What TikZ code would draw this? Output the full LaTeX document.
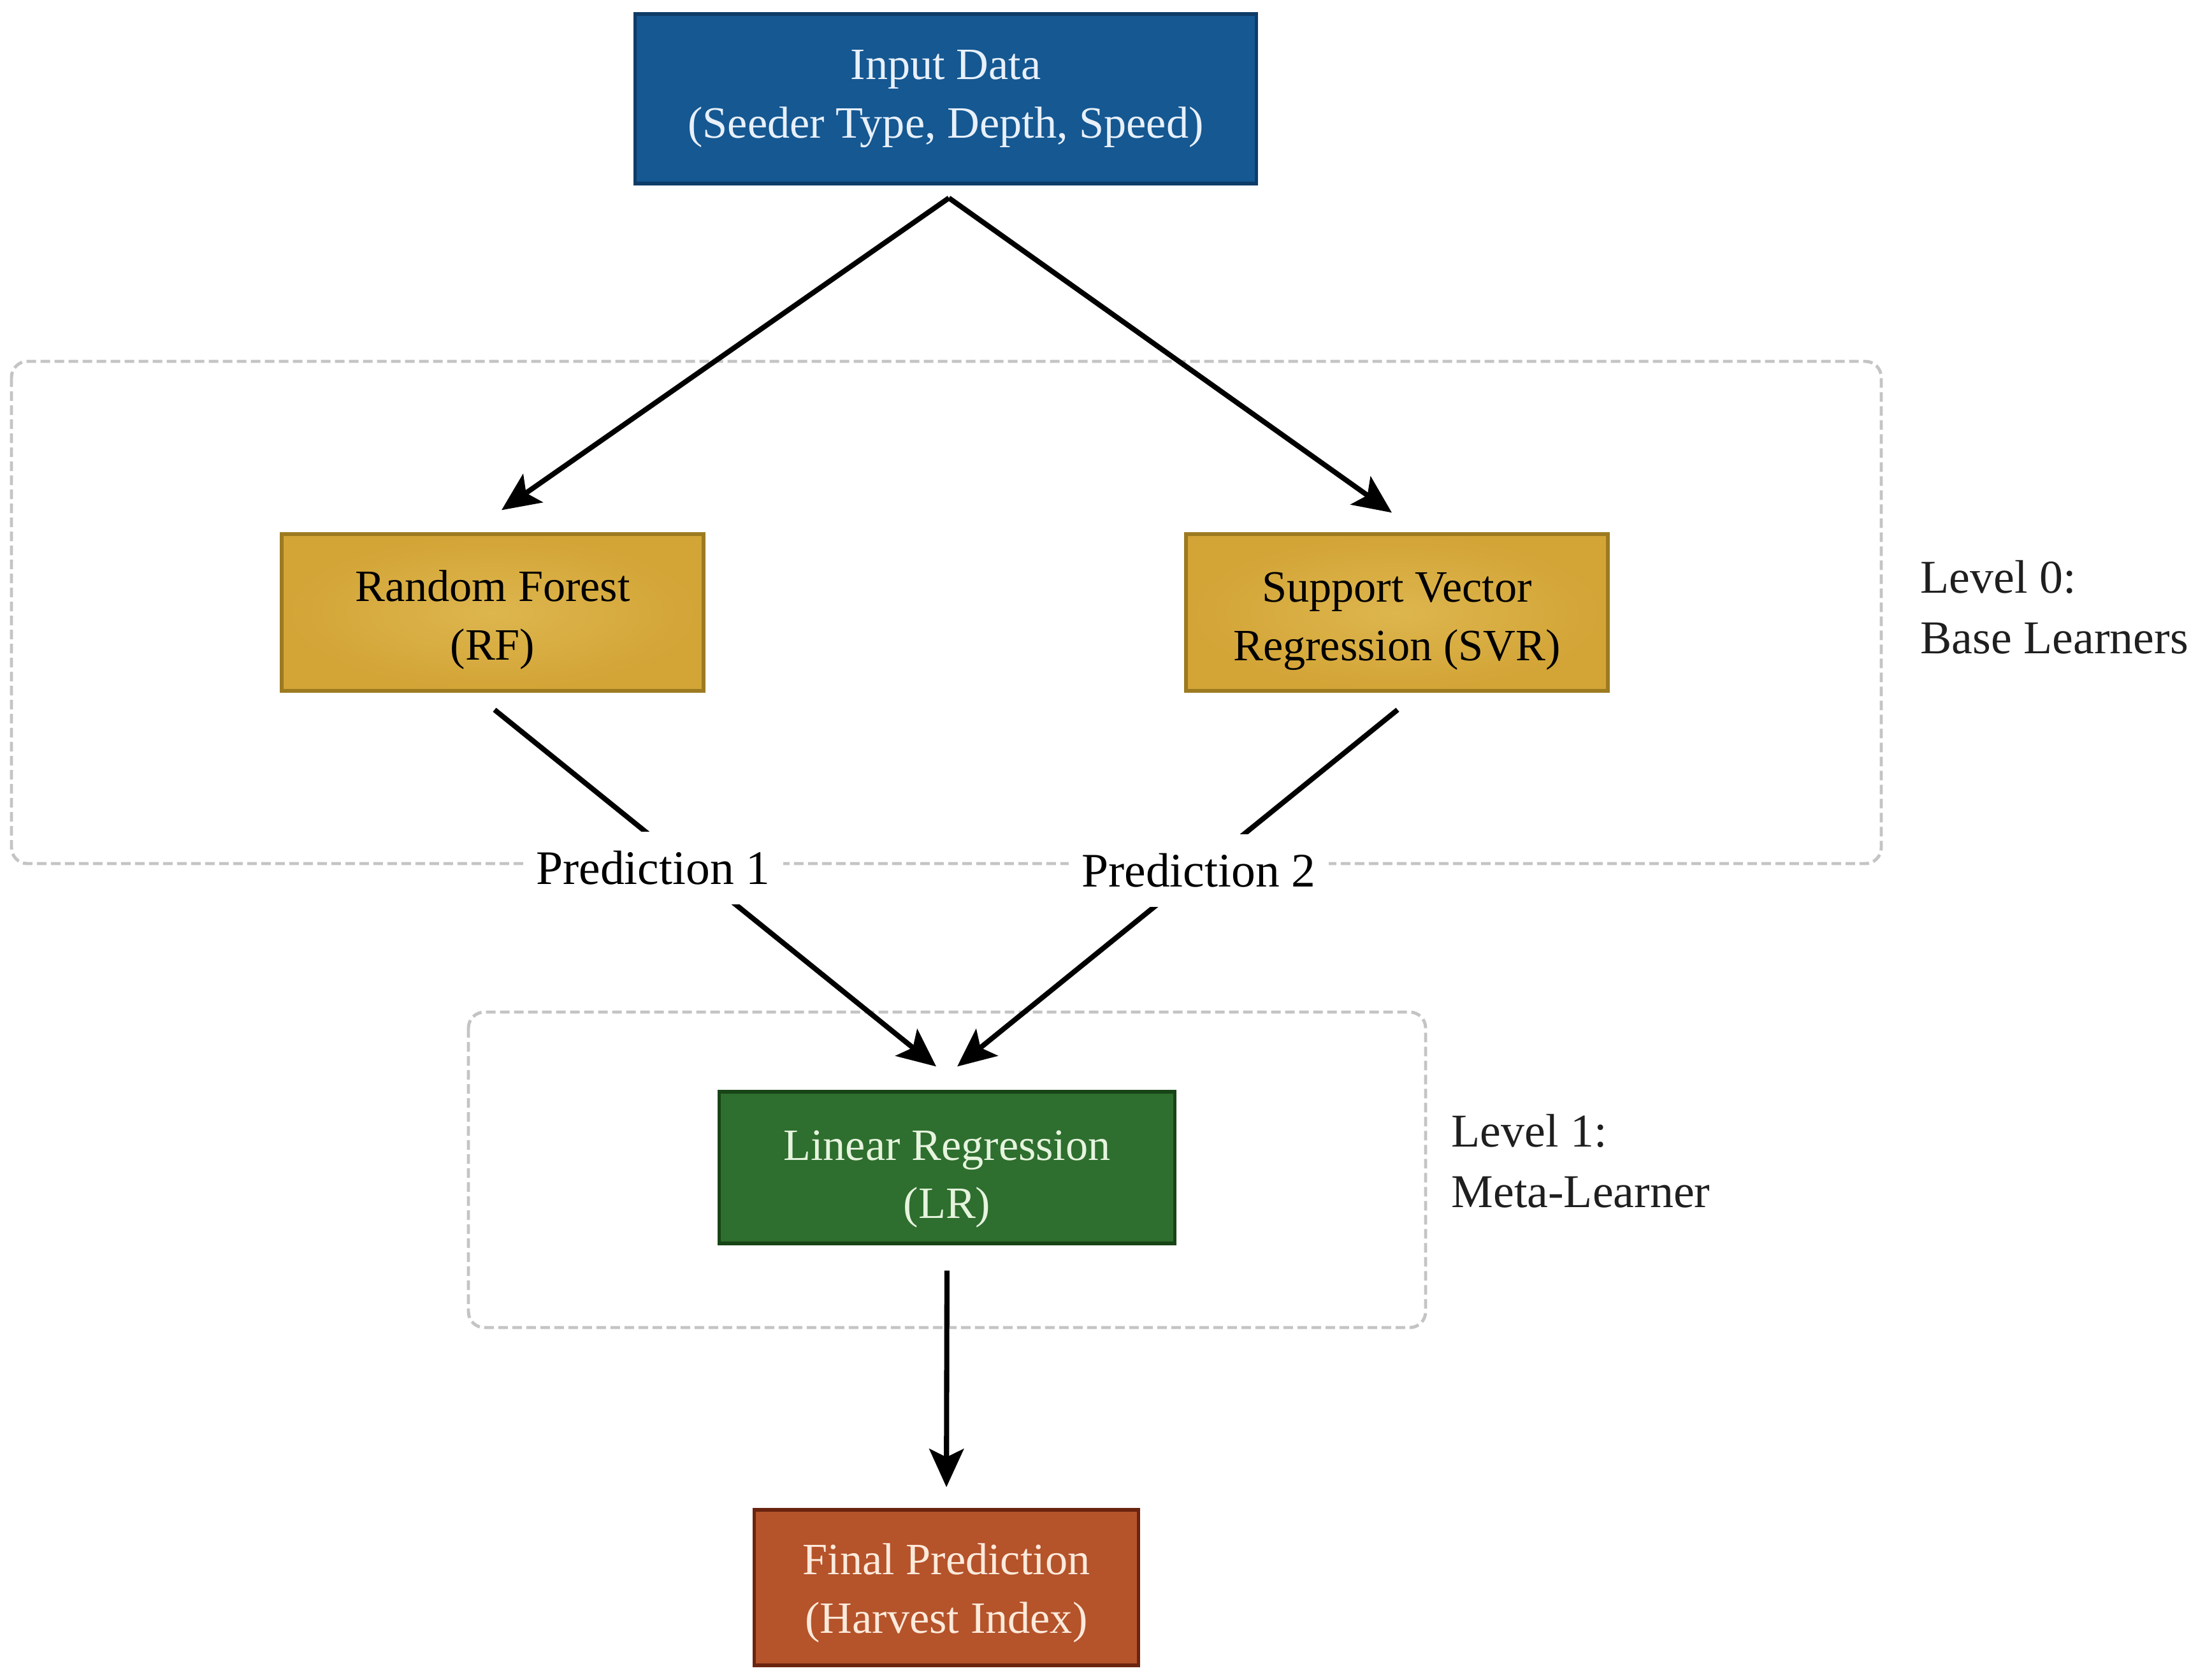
\documentclass[tikz,border=0pt]{standalone}
\usepackage{fontspec}
\setmainfont{Liberation Serif}
\usetikzlibrary{arrows.meta,calc}
\definecolor{inblue}{HTML}{155892}
\definecolor{inblueD}{HTML}{0E3C68}
\definecolor{inText}{HTML}{E8F0FA}
\definecolor{goldF}{HTML}{D3A436}
\definecolor{goldL}{HTML}{DDB64E}
\definecolor{goldD}{HTML}{9C7A20}
\definecolor{grnF}{HTML}{2E6E2E}
\definecolor{grnD}{HTML}{174417}
\definecolor{grnText}{HTML}{E6F4DE}
\definecolor{orgF}{HTML}{B5532B}
\definecolor{orgD}{HTML}{6A2410}
\definecolor{orgText}{HTML}{FCEADB}
\definecolor{grpGray}{HTML}{C4C4C4}
\tikzset{
  box/.style={draw, line width=1.5pt, align=center, inner sep=0pt,
    font=\fontsize{20}{26}\selectfont},
  goldbox/.style={box, draw=goldD, text=black, inner color=goldL, outer color=goldF,
    minimum width=6.62cm, minimum height=2.46cm},
  conn/.style={line width=2.3pt, -{Stealth[length=0.6cm,width=0.54cm,inset=0.13cm]}},
  group/.style={draw=grpGray, line width=1.4pt, dash pattern=on 0.15cm off 0.07cm, rounded corners=0.25cm},
  pred/.style={fill=white, font=\fontsize{21.5}{26}\selectfont, inner xsep=0.2cm, inner ysep=0.3cm},
  level/.style={anchor=west, align=left, inner sep=0pt, font=\fontsize{21}{27}\selectfont, text=black!88}
}
\begin{document}
\begin{tikzpicture}
\useasboundingbox[fill=white] (0,0) rectangle (34.49,-26.35);

% group frames
\draw[group] (0.18,-5.67) rectangle (29.52,-13.55);
\draw[group] (7.35,-15.88) rectangle (22.37,-20.83);

% nodes
\node[box, fill=inblue, draw=inblueD, text=inText, minimum width=9.75cm, minimum height=2.66cm]
  (in) at (14.84,-1.55) {Input Data\\(Seeder Type, Depth, Speed)};
\node[goldbox] (rf) at (7.73,-9.61) {\rule{0pt}{20.5pt}Random Forest\\(RF)};
\node[goldbox] (svr) at (21.92,-9.61) {\rule{0pt}{21pt}Support Vector\\Regression (SVR)};
\node[box, fill=grnF, draw=grnD, text=grnText, minimum width=7.15cm, minimum height=2.38cm]
  (lr) at (14.86,-18.32) {\rule{0pt}{23.5pt}Linear Regression\\(LR)};
\node[box, fill=orgF, draw=orgD, text=orgText, minimum width=6.03cm, minimum height=2.44cm]
  (fin) at (14.85,-24.91) {\rule{0pt}{18.7pt}Final Prediction\\(Harvest Index)};

% connector end points
\coordinate (inOut) at ($(in.south)+(0.05,-0.20)$);
\coordinate (tipRF) at ($(rf.north)+(0.14,0.35)$);
\coordinate (tipSVR) at ($(svr.north)+(-0.08,0.31)$);
\coordinate (rfOut) at ($(rf.south)+(0.03,-0.27)$);
\coordinate (svrOut) at ($(svr.south)+(0.01,-0.27)$);
\coordinate (tipL) at ($(lr.north)+(-0.17,0.37)$);
\coordinate (tipR) at ($(lr.north)+(0.16,0.37)$);

% connectors
\draw[conn] (inOut) -- (tipRF);
\draw[conn] (inOut) -- (tipSVR);
\draw[conn] (rfOut) -- (tipL);
\draw[conn] (svrOut) -- (tipR);
\draw[conn, shorten <=0.40cm, shorten >=0.33cm] (lr.south) -- (fin.north);

% prediction labels
\node[pred] (p1) at (10.25,-13.62) {Prediction 1};
\node[pred] (p2) at (18.81,-13.66) {Prediction 2};

% level labels
\node[level] (lvl0) at (30.13,-9.53) {Level 0:\\Base Learners};
\node[level] (lvl1) at (22.77,-18.22) {Level 1:\\Meta-Learner};
\end{tikzpicture}
\end{document}
